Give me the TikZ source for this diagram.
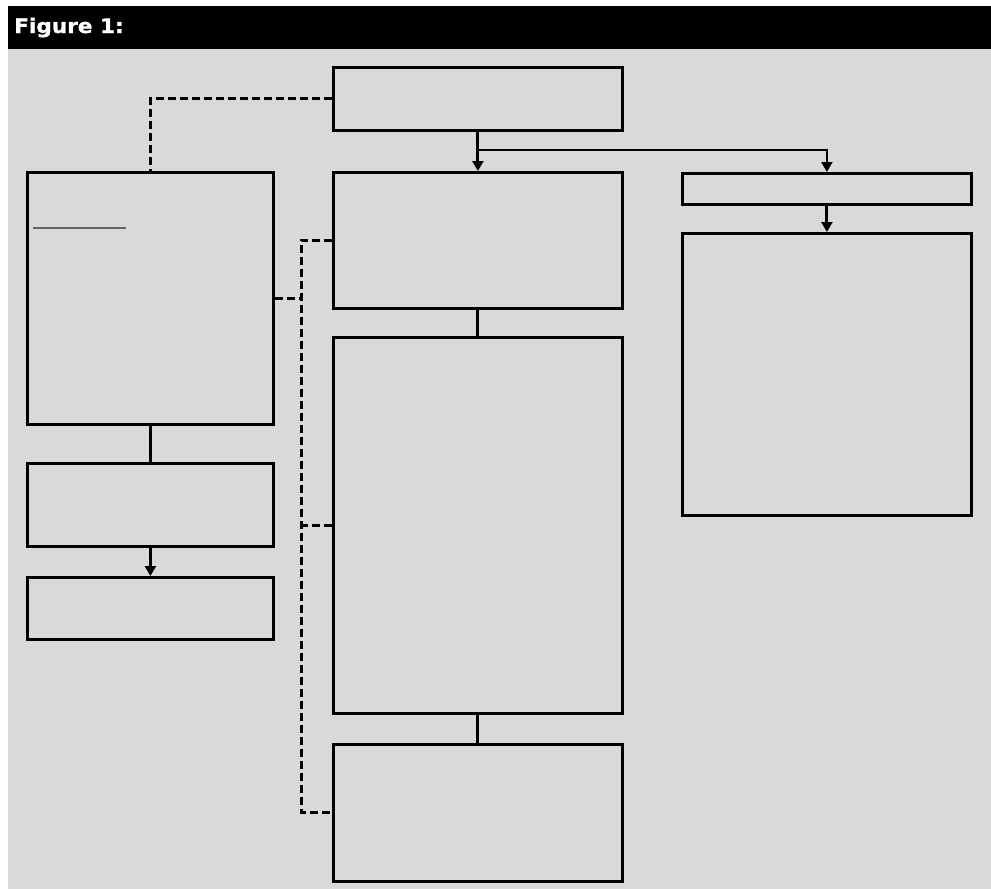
\documentclass[tikz,border=0pt]{standalone}
\usepackage{fontspec}
\newfontfamily\titlefont[FakeBold=1.2]{DejaVu Sans Bold}
\usepackage{graphicx}
\usepackage{tikz}
\usetikzlibrary{arrows.meta, positioning, calc}
\definecolor{panelgray}{RGB}{217, 217, 217}
\definecolor{ruleline}{RGB}{100, 100, 100}

\begin{document}
\begin{tikzpicture}[x=1pt, y=-1pt,
    box/.style={draw=black, line width=2.8pt, rectangle, anchor=north west,
                inner sep=0pt},
    solidline/.style={black, line width=3pt},
    arrowline/.style={black, line width=3pt, -{Triangle[length=10pt, width=11pt]}},
    thinarrow/.style={black, line width=2pt, -{Triangle[length=10pt, width=11pt]}},
    dashline/.style={black, line width=3pt, dash pattern=on 8pt off 4pt}]

    % BACKGROUND AND TITLE BAR
    \useasboundingbox (0,0) rectangle (991,889);
    \fill[white] (0,0) rectangle (991,889);
    \fill[black] (8,6) rectangle (991,49);
    \fill[panelgray] (8,49) rectangle (991,889);
    \node[anchor=base west, inner sep=0pt, white,
          font=\titlefont\fontsize{20}{22}\selectfont]
        (title) at (14,33) {\scalebox{1.08}[1]{Figure 1:}};

    % TOP BOX
    \node[box, minimum width=289pt, minimum height=63pt] (top) at (332,66) {};

    % LEFT COLUMN
    \node[box, minimum width=246pt, minimum height=252pt] (left1) at (26,171) {};
    \node[box, minimum width=246pt, minimum height=83pt] (left2) at (26,462) {};
    \node[box, minimum width=246pt, minimum height=62pt] (left3) at (26,576) {};
    \draw[ruleline, line width=1.2pt] (33,228) -- (126,228);

    % CENTRE COLUMN
    \node[box, minimum width=289pt, minimum height=136pt] (mid1) at (332,171) {};
    \node[box, minimum width=289pt, minimum height=376pt] (mid2) at (332,336) {};
    \node[box, minimum width=289pt, minimum height=137pt] (mid3) at (332,743) {};

    % RIGHT COLUMN
    \node[box, minimum width=289pt, minimum height=31pt] (right1) at (681,172) {};
    \node[box, minimum width=289pt, minimum height=282pt] (right2) at (681,232) {};

    % CONNECTORS
    \coordinate (split) at (476.5,150);
    \coordinate (bus) at (301,0);
    \draw[arrowline] (top.south) -- (mid1.north);
    \draw[thinarrow] (split) -| (right1.north);
    \draw[arrowline] (right1.south) -- (right2.north);
    \draw[solidline] (mid1.south) -- (mid2.north);
    \draw[solidline] (mid2.south) -- (mid3.north);
    \draw[solidline] (left1.south) -- (left2.north);
    \draw[arrowline] (left2.south) -- (left3.north);

    % DASHED LINKS
    \draw[dashline] (top.west) -| (left1.north);
    \draw[dashline] (mid1.west) -- (mid1.west -| bus)
        -- (mid3.west -| bus) -- (mid3.west);
    \draw[dashline] (mid2.west) -- (mid2.west -| bus);
    \draw[dashline] (left1.east) -- (left1.east -| bus);

\end{tikzpicture}
\end{document}
